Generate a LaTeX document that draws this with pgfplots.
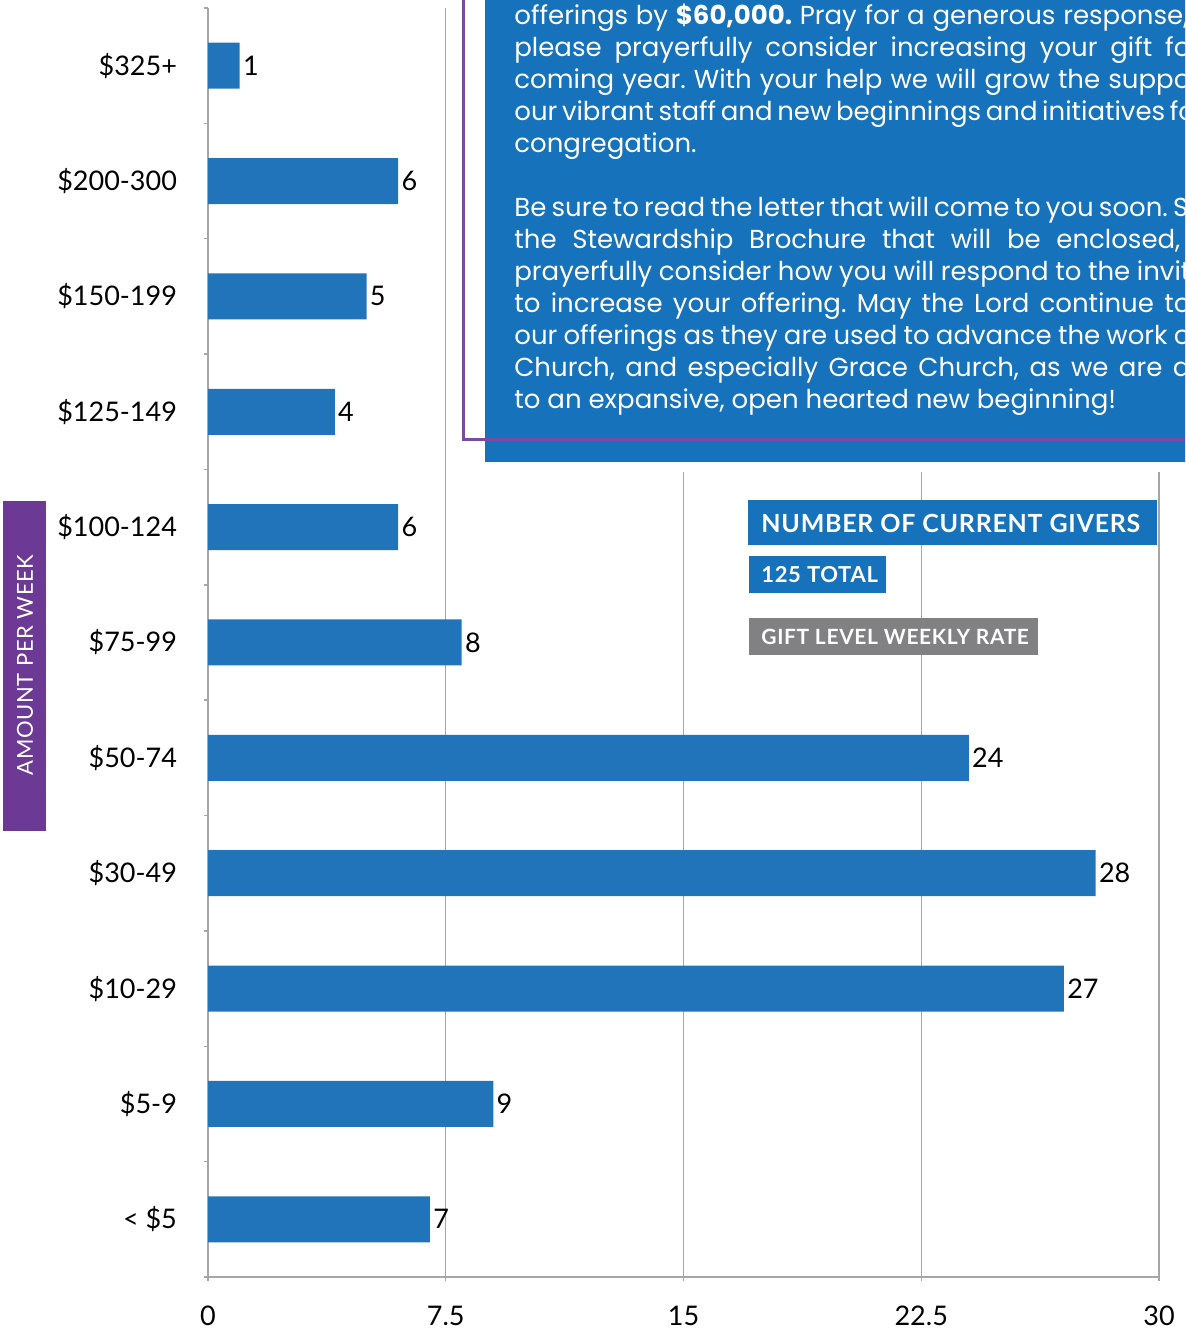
\documentclass[border=0pt]{standalone}
\usepackage{fontspec}
\setmainfont{Lato}
\newfontfamily\boxfont{Poppins}
\newfontfamily\capfont[LetterSpace=3]{Lato}
\usepackage{pgfplots}
\pgfplotsset{compat=1.18}
\definecolor{barblue}{HTML}{2174BA}
\definecolor{boxblue}{HTML}{1672BA}
\definecolor{gridgray}{HTML}{A6A6A6}
\definecolor{labgray}{HTML}{818184}
\definecolor{sidepurple}{HTML}{6C3A94}
\definecolor{linepurple}{HTML}{7B4AA6}
\frenchspacing
\begin{document}
\begin{tikzpicture}
\useasboundingbox (0,0) rectangle (592.5pt,664.5pt);
\clip (0,0) rectangle (592.5pt,664.5pt);
\begin{axis}[
  at={(104pt,26pt)}, anchor=south west,
  scale only axis, width=475.5pt, height=634.5pt,
  xmin=0, xmax=30, ymin=-0.5, ymax=10.5,
  xbar, bar width=23pt,
  axis lines*=left,
  axis line style={gridgray, line width=0.7pt},
  xtick={0,7.5,15,22.5,30}, xticklabels={0,7.5,15,22.5,30},
  ytick={0,...,10},
  yticklabels={{< \$5},{\$5-9},{\$10-29},{\$30-49},{\$50-74},{\$75-99},{\$100-124},{\$125-149},{\$150-199},{\$200-300},{\$325+}},
  minor ytick={-0.5,0.5,...,10.5},
  major y tick style={draw=none},
  tick style={gridgray, line width=0.7pt},
  tick align=outside,
  major tick length=2pt, minor tick length=2pt,
  xmajorgrids, grid style={gridgray, line width=0.7pt},
  /pgf/number format/assume math mode=true,
  ticklabel style={font=\fontsize{13.5}{16}\selectfont, text=black},
  xticklabel style={yshift=-9pt},
  yticklabel style={xshift=-10pt},
  nodes near coords,
  every node near coord/.append style={font=\fontsize{13.5}{16}\selectfont, text=black, anchor=west, inner sep=1.5pt},
  clip=false,
]
\addplot[fill=barblue, draw=none] coordinates {
 (7,0) (9,1) (27,2) (28,3) (24,4) (8,5) (6,6) (4,7) (5,8) (6,9) (1,10)};
\end{axis}
\begin{scope}[shift={(0pt,664.5pt)}, x=0.5pt, y=-0.5pt]
  % white cover and text box
  \fill[white] (470,-5) rectangle (1200,472);
  \fill[boxblue] (485,-5) rectangle (1200,462);
  \draw[linepurple, line width=1.5pt] (463,-5) -- (463,440) -- (1200,440);
  \begin{scope}[every node/.style={anchor=base west, inner sep=0pt, text=white, font=\boxfont\fontsize{13}{16}\selectfont}]
    \node at (514,25) {\makebox[337pt][s]{offerings by \textbf{\$60,000.} Pray for a generous response,}};
    \node at (514,57) {\makebox[338pt][s]{please prayerfully consider increasing your gift fo}};
    \node at (514,89) {\makebox[338pt][s]{coming year. With your help we will grow the suppo}};
    \node at (514,121) {\makebox[338pt][s]{our vibrant staff and new beginnings and initiatives fo}};
    \node at (514,153) {congregation.};
    \node at (514,217) {\makebox[337pt][s]{Be sure to read the letter that will come to you soon. S}};
    \node at (514,249) {\makebox[333pt][s]{the Stewardship Brochure that will be enclosed,}};
    \node at (514,281) {\makebox[338pt][s]{prayerfully consider how you will respond to the invit}};
    \node at (514,313) {\makebox[338pt][s]{to increase your offering. May the Lord continue to}};
    \node at (514,345) {\makebox[338pt][s]{our offerings as they are used to advance the work o}};
    \node at (514,377) {\makebox[338pt][s]{Church, and especially Grace Church, as we are d}};
    \node at (514,409) {to an expansive, open hearted new beginning!};
  \end{scope}
  % labels
  \fill[boxblue] (748,500) rectangle (1157,545);
  \node[anchor=west, inner sep=0pt, text=white, font=\capfont\bfseries\fontsize{12.5}{14}\selectfont] at (761,523) {NUMBER OF CURRENT GIVERS};
  \fill[boxblue] (749,556) rectangle (886,593);
  \node[anchor=west, inner sep=0pt, text=white, font=\capfont\bfseries\fontsize{11}{13}\selectfont] at (761,575) {125 TOTAL};
  \fill[labgray] (749,618) rectangle (1038,655);
  \node[anchor=west, inner sep=0pt, text=white, font=\capfont\bfseries\fontsize{10.5}{12}\selectfont] at (761,637) {GIFT LEVEL WEEKLY RATE};
  \fill[sidepurple] (3,501) rectangle (46,831);
  \node[rotate=90, inner sep=0pt, text=white, font=\capfont\fontsize{11}{13}\selectfont] at (25,665) {AMOUNT PER WEEK};
\end{scope}
\end{tikzpicture}
\end{document}
